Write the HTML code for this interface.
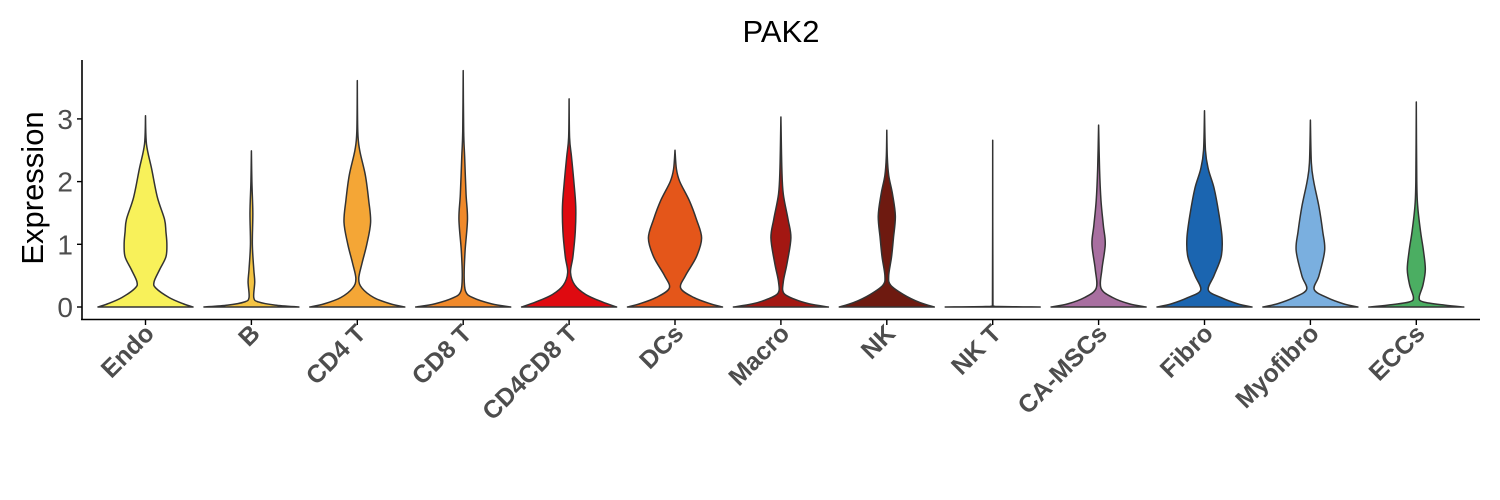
<!DOCTYPE html>
<html><head><meta charset="utf-8"><style>body{margin:0;background:#fff}svg{display:block}</style></head>
<body>
<svg id="chart" width="1500" height="500" xmlns="http://www.w3.org/2000/svg" font-family="Liberation Sans, Arial, sans-serif">
<text x="781" y="42" font-size="31" text-anchor="middle" fill="#000">PAK2</text>
<text transform="translate(43,188) rotate(-90)" font-size="31" text-anchor="middle" fill="#000">Expression</text>
<g id="plot"></g>
<line x1="82" y1="60" x2="82" y2="320" stroke="#000" stroke-width="1.6"/>
<line x1="81" y1="319.5" x2="1480" y2="319.5" stroke="#000" stroke-width="1.6"/>
</svg>
<script>
const categories=["Endo","B","CD4 T","CD8 T","CD4CD8 T","DCs","Macro","NK","NK T","CA-MSCs","Fibro","Myofibro","ECCs"];
const colors=["#F8F15A","#F4C443","#F4A636","#F0892A","#DF0A10","#E4561A","#A31712","#6E1A10","#888888","#A86FA0","#1B65B0","#7AAFDF","#4BAE62"];
const yTicks=[0,1,2,3];
const profEndo=[[0,1],[0.05,0.8],[0.15,0.5],[0.3,0.22],[0.4,0.18],[0.6,0.3],[0.8,0.43],[1.0,0.45],[1.2,0.43],[1.4,0.4],[1.75,0.25],[2.2,0.13],[2.6,0.02],[3.05,0]];
const profB=[[0,1],[0.03,0.5],[0.08,0.15],[0.15,0.05],[0.4,0.07],[0.6,0.05],[1.0,0.02],[1.5,0.03],[2.0,0.01],[2.49,0]];
const profCD4=[[0,1],[0.05,0.7],[0.15,0.35],[0.3,0.1],[0.45,0.03],[0.7,0.1],[1.0,0.2],[1.35,0.28],[1.7,0.24],[2.1,0.17],[2.5,0.05],[2.8,0.01],[3.61,0]];
const profCD8=[[0,1],[0.05,0.6],[0.15,0.2],[0.25,0.05],[0.5,0.02],[0.9,0.04],[1.4,0.09],[1.8,0.06],[2.4,0.03],[2.8,0.01],[3.77,0]];
const profCD4CD8=[[0,1],[0.08,0.7],[0.2,0.35],[0.35,0.12],[0.55,0.03],[0.8,0.08],[1.2,0.13],[1.6,0.14],[2.0,0.1],[2.4,0.05],[2.7,0.01],[3.32,0]];
const profDCs=[[0,1],[0.05,0.75],[0.15,0.4],[0.3,0.12],[0.5,0.22],[0.8,0.45],[1.1,0.56],[1.4,0.45],[1.7,0.3],[2.0,0.1],[2.2,0.03],[2.5,0]];
const profMacro=[[0,1],[0.05,0.6],[0.12,0.3],[0.22,0.06],[0.4,0.05],[0.7,0.13],[1.1,0.21],[1.4,0.15],[1.8,0.05],[2.2,0.02],[3.03,0]];
const profNK=[[0,1],[0.07,0.7],[0.2,0.35],[0.35,0.08],[0.5,0.04],[0.8,0.1],[1.1,0.14],[1.45,0.18],[1.8,0.12],[2.1,0.04],[2.4,0.01],[2.82,0]];
const profNKT=[[0,1],[0.01,0.05],[0.03,0.005],[2.66,0]];
const profCAMSC=[[0,1],[0.05,0.65],[0.15,0.3],[0.3,0.05],[0.6,0.07],[1.0,0.14],[1.3,0.1],[1.7,0.05],[2.2,0.02],[2.9,0]];
const profFibro=[[0,1],[0.05,0.7],[0.15,0.35],[0.27,0.08],[0.5,0.2],[0.8,0.35],[1.1,0.37],[1.5,0.3],[1.9,0.2],[2.2,0.08],[2.5,0.02],[3.13,0]];
const profMyo=[[0,1],[0.05,0.7],[0.15,0.35],[0.28,0.08],[0.5,0.18],[0.9,0.3],[1.2,0.26],[1.6,0.18],[2.0,0.07],[2.3,0.02],[2.98,0]];
const profECC=[[0,1],[0.03,0.6],[0.08,0.15],[0.15,0.06],[0.35,0.14],[0.6,0.19],[0.9,0.15],[1.2,0.09],[1.6,0.03],[2.0,0.01],[3.27,0]];
const profiles=[profEndo,profB,profCD4,profCD8,profCD4CD8,profDCs,profMacro,profNK,profNKT,profCAMSC,profFibro,profMyo,profECC];

const NS="http://www.w3.org/2000/svg";
const plot=document.getElementById('plot');
const svg=document.getElementById('chart');
function yScale(v){return 307-v*62.7;}
function xScale(i){return 145.5+i*105.9;}
const maxHW=47.5;
function mk(tag,attrs,parent){const e=document.createElementNS(NS,tag);for(const k in attrs)e.setAttribute(k,attrs[k]);(parent||plot).appendChild(e);return e;}
function smooth(pts,cx,side){
  let d="";
  const base=yScale(0);
  const cl=(x,y)=>[side>0?Math.max(cx,x):Math.min(cx,x),Math.min(base,y)];
  for(let i=0;i<pts.length-1;i++){
    const p0=pts[Math.max(0,i-1)],p1=pts[i],p2=pts[i+1],p3=pts[Math.min(pts.length-1,i+2)];
    const c1=cl(p1[0]+(p2[0]-p0[0])/6,p1[1]+(p2[1]-p0[1])/6);
    const c2=cl(p2[0]-(p3[0]-p1[0])/6,p2[1]-(p3[1]-p1[1])/6);
    d+=` C${c1[0].toFixed(2)},${c1[1].toFixed(2)} ${c2[0].toFixed(2)},${c2[1].toFixed(2)} ${p2[0].toFixed(2)},${p2[1].toFixed(2)}`;
  }
  return d;
}
yTicks.forEach(t=>{
  const tk=mk('line',{x1:77,x2:82,y1:yScale(t),y2:yScale(t),stroke:'#000','stroke-width':1.4},svg);
  
  
  const lb=mk('text',{x:73,y:yScale(t)+10,'font-size':28,'text-anchor':'end',fill:'#4d4d4d'},svg);
  lb.textContent=t;
  
  
});
categories.forEach((c,i)=>{
  const cx=xScale(i);
  const prof=profiles[i];
  const right=prof.map(p=>[cx+p[1]*maxHW,yScale(p[0])]);
  const left=prof.slice().reverse().map(p=>[cx-p[1]*maxHW,yScale(p[0])]);
  let d=`M${cx-maxHW*prof[0][1]},${yScale(0)} L${right[0][0]},${right[0][1]}`+smooth(right,cx,1)+smooth(left,cx,-1)+" Z";
  const v=mk('path',{d:d,fill:colors[i],stroke:'#333','stroke-width':1.5,'stroke-linejoin':'round'});
  
  
  const tk=mk('line',{x1:cx,x2:cx,y1:320,y2:325,stroke:'#000','stroke-width':1.4},svg);
  
  
  const lb=mk('text',{transform:`translate(${cx+10},${335}) rotate(-45)`,'font-size':25,'font-weight':'bold','text-anchor':'end',fill:'#4d4d4d'},svg);
  lb.textContent=c;
  
  
});
</script>
</body></html>
